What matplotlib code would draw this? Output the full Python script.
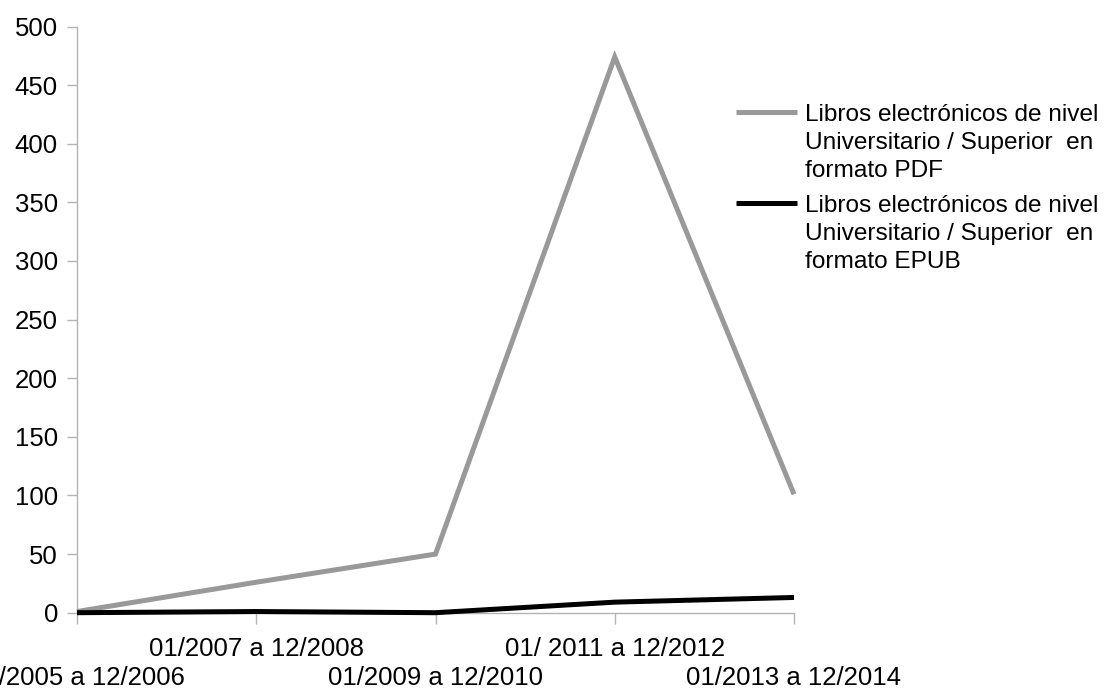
import matplotlib
matplotlib.use("Agg")
import matplotlib.pyplot as plt
from matplotlib.lines import Line2D
from matplotlib.transforms import ScaledTranslation

plt.rcParams['font.family'] = ['Liberation Sans', 'DejaVu Sans']

# Periods (two-year windows) and yearly counts per format
periods = ["01/2005 a 12/2006", "01/2007 a 12/2008", "01/2009 a 12/2010",
           "01/ 2011 a 12/2012", "01/2013 a 12/2014"]
pdf_books = [1, 26, 50, 474, 101]
epub_books = [0, 1, 0, 9, 13]

series_labels = [
    "Libros electrónicos de nivel\nUniversitario / Superior  en\nformato PDF",
    "Libros electrónicos de nivel\nUniversitario / Superior  en\nformato EPUB",
]
series_colors = ["#999999", "#000000"]
y_ticks = list(range(0, 501, 50))

fig = plt.figure(figsize=(11.06, 6.88), dpi=100)
ax = fig.add_axes([77 / 1106, 1 - 612.7 / 688, (794 - 77) / 1106, (612.7 - 26.5) / 688])

x = list(range(len(periods)))
ax.plot(x, pdf_books, color=series_colors[0], lw=3.6, solid_joinstyle="miter",
        solid_capstyle="butt", clip_on=False, zorder=3)
ax.plot(x, epub_books, color=series_colors[1], lw=3.6, solid_joinstyle="miter",
        solid_capstyle="butt", clip_on=False, zorder=4)

ax.set_xlim(0, len(periods) - 1)
ax.set_ylim(0, 500)
ax.set_yticks(y_ticks)
ax.set_xticks(x)
ax.set_xticklabels(periods)

spine_color = "#b3b3b3"
for side in ("top", "right"):
    ax.spines[side].set_visible(False)
for side in ("left", "bottom"):
    ax.spines[side].set_color(spine_color)
    ax.spines[side].set_linewidth(1.0)

ax.tick_params(axis="y", length=7.2, width=1.0, color=spine_color, pad=6.5,
               labelsize=18.5, labelcolor="#000000")
ax.tick_params(axis="x", length=8, width=1.0, color=spine_color, pad=9.2,
               labelsize=18.5, labelcolor="#000000")

# stagger the category labels on two rows
drop = ScaledTranslation(0, -29.5 / 100, fig.dpi_scale_trans)
for i, lab in enumerate(ax.get_xticklabels()):
    if i % 2 == 0:
        lab.set_transform(lab.get_transform() + drop)

# legend to the right of the plot area
legend_rows = [111.7, 203.0]
for label, color, yp in zip(series_labels, series_colors, legend_rows):
    yf = 1 - yp / 688
    fig.add_artist(Line2D([736 / 1106, 797 / 1106], [yf, yf], color=color,
                          lw=3.6, solid_capstyle="butt",
                          transform=fig.transFigure))
    fig.text(805 / 1106, 1 - (yp - 8) / 688, label, fontsize=17.6,
             va="top", ha="left", linespacing=1.36, color="#000000")

fig.savefig("out.png", dpi=100, facecolor="white")
